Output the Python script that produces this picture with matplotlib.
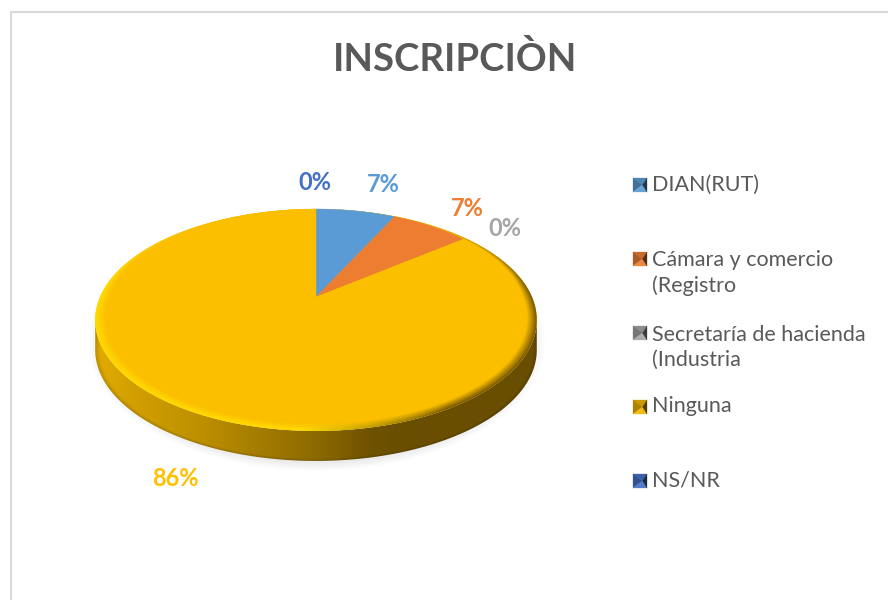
import numpy as np
import matplotlib
matplotlib.use("Agg")
import matplotlib.pyplot as plt
from matplotlib.patches import Polygon
from matplotlib.colors import to_rgb

plt.rcParams['font.family'] = ['Lato', 'DejaVu Sans']

title = "INSCRIPCIÒN"
categories = ["DIAN(RUT)", "Cámara y comercio\n(Registro", "Secretaría de hacienda\n(Industria", "Ninguna", "NS/NR"]
values = [7.14, 7.14, 0.0, 85.72, 0.0]
pct_labels = ["7%", "7%", "0%", "86%", "0%"]
colors = ["#5B9BD5", "#ED7D31", "#A5A5A5", "#FBBF00", "#4472C4"]
label_colors = ["#5B9BD5", "#ED7D31", "#A5A5A5", "#FFC000", "#4472C4"]
label_pos = [(383, 185), (467, 209), (505, 228), (175, 478), (315, 183)]
legend_y = [185, 259, 333, 407, 481]

fig = plt.figure(figsize=(8.88, 6.0), dpi=100, facecolor='white')
ax = fig.add_axes([0, 0, 1, 1])
ax.set_xlim(0, 888)
ax.set_ylim(600, 0)
ax.axis('off')

# chart frame (only top and left edges fall inside the crop)
ax.plot([10.5, 10.5, 888], [600, 12, 12], color='#D9D9D9', lw=1.5, solid_joinstyle='miter')

# Perspective disc
CX, CY, A, B, K = 316.0, 297.0, 216.0, 106.2, 0.207
DEPTH = 30.0

def project(theta, r=1.0):
    u, v = r * np.sin(theta), r * np.cos(theta)
    w = 1 + K * v
    return CX + A * u / w, CY - B * v / w

gx, gy = np.meshgrid(np.arange(0.5, 888, 1.0), np.arange(0.5, 600, 1.0))
ext = (0, 888, 600, 0)

def disc_coords(x, y):
    Y = CY - y
    denom = B - K * Y
    v = Y / denom
    u = (x - CX) * (1 + K * v) / A
    return u, v

# soft shadow
su, sv = disc_coords(gx, gy - 14)
sr = np.hypot((gx - 316) / 229.0, (gy - 342) / 129.0)
sa = np.clip((1.0 - sr) / 0.07, 0, 1) * 0.22
shadow = np.zeros(gx.shape + (4,))
shadow[..., :3] = 0.62
shadow[..., 3] = sa
ax.imshow(shadow, extent=ext, aspect='auto', zorder=1, interpolation='bilinear')
ax.set_xlim(0, 888)
ax.set_ylim(600, 0)

# side wall with horizontal gradient, clipped to the wall outline
t = np.linspace(0, 2 * np.pi, 721)
px, py = project(t)
i0, i1 = int(np.argmax(px)), int(np.argmin(px))
ax_low, ay_low = px[i0:i1 + 1], py[i0:i1 + 1]
wall = np.column_stack([np.r_[ax_low, ax_low[::-1]], np.r_[ay_low, ay_low[::-1] + DEPTH]])
wall_patch = Polygon(wall, closed=True, fc='none', ec='none', transform=ax.transData)
ax.add_patch(wall_patch)
stops_x = [95, 130, 200, 260, 316, 370, 400, 537]
stops_c = ['#E2AD00', '#D3A000', '#BE9000', '#A37C00', '#8C6A00', '#6F5200', '#6A4E00', '#6A4E00']
rgb = np.array([to_rgb(c) for c in stops_c])
grad = np.stack([np.interp(gx, stops_x, rgb[:, i]) for i in range(3)], axis=-1)
# slightly darker toward the lower edge of the wall
edge = np.hypot((gx - CX) / 221.0, (gy - DEPTH - 320) / 111.0)
grad *= (1 - 0.18 * np.clip((edge - 0.975) / 0.025, 0, 1))[..., None]
im = ax.imshow(grad, extent=ext, aspect='auto', zorder=2, interpolation='bilinear')
im.set_clip_path(wall_patch)

# top surface base + bevel
base = Polygon(np.column_stack([px, py]), closed=True, fc='#FBBF00', ec='none', zorder=3)
ax.add_patch(base)

def inset(th):
    return 1 - 0.045 * np.clip((1 - np.cos(th)) / 1.0, 0, 1)

u, v = disc_coords(gx, gy)
r = np.hypot(u, v)
ang = np.arctan2(u, v)
rf = inset(ang)
s = np.clip((r - rf) / np.maximum(1 - rf, 1e-3), 0, 1)
c_flat = np.array(to_rgb('#FBBF00'))
c_lit = np.array(to_rgb('#FFDC00'))
c_dark = np.array(to_rgb('#6E5000'))
m = np.clip((u + 0.05) / 0.55, 0, 1)[..., None]
edge_col = c_lit * (1 - m) + c_dark * m
low = np.clip((1 - v) / 0.9, 0, 1)[..., None]
edge_col = c_flat * (1 - low) + edge_col * low
bev = c_flat * (1 - s[..., None]) + edge_col * s[..., None]
bi = ax.imshow(bev, extent=ext, aspect='auto', zorder=4, interpolation='bilinear')
bi.set_clip_path(base)

# slices
start = 0.0
total = sum(values)
for val, col in zip(values, colors):
    end = start + val / total * 2 * np.pi
    if val > 0:
        th = np.linspace(start, end, 200)
        wx, wy = project(th, inset(th))
        pts = np.column_stack([np.r_[CX, wx], np.r_[CY, wy]])
        ax.add_patch(Polygon(pts, closed=True, fc=col, ec=col, lw=0.3, zorder=5))
    start = end

# percent labels
for lab, col, (x, y) in zip(pct_labels, label_colors, label_pos):
    ax.text(x, y, lab, color=col, fontsize=17, fontweight='bold', ha='center', va='center', zorder=6)

# title
ax.text(455, 59, title, color='#595959', fontsize=27.5, fontweight='bold', ha='center', va='center')

# legend with bevelled square keys
def shade(c, f):
    c = np.array(to_rgb(c))
    return tuple(c * f) if f <= 1 else tuple(c + (1 - c) * (f - 1))

for name, col, y in zip(categories, colors, legend_y):
    if col == '#FBBF00':
        col = '#F0B400'
    x0, x1, y0, y1 = 633.0, 647.0, y - 7.0, y + 7.0
    mx, my = (x0 + x1) / 2 + 2.5, (y0 + y1) / 2
    faces = [([(x0, y0), (x1, y0), (mx, my)], shade(col, 0.85)),
             ([(x0, y0), (x0, y1), (mx, my)], shade(col, 0.72)),
             ([(x0, y1), (x1, y1), (mx, my)], shade(col, 1.08)),
             ([(x1, y0), (x1, y1), (mx, my)], shade(col, 0.35))]
    for pts, c in faces:
        ax.add_patch(Polygon(pts, closed=True, fc=c, ec=c, lw=0.2, zorder=6))
    ax.text(652, y - 0.5 if '\n' not in name else y + 14, name, color='#595959', fontsize=15.5,
            ha='left', va='center', linespacing=1.3, zorder=6)

fig.savefig("out.png", dpi=100, facecolor='white')
